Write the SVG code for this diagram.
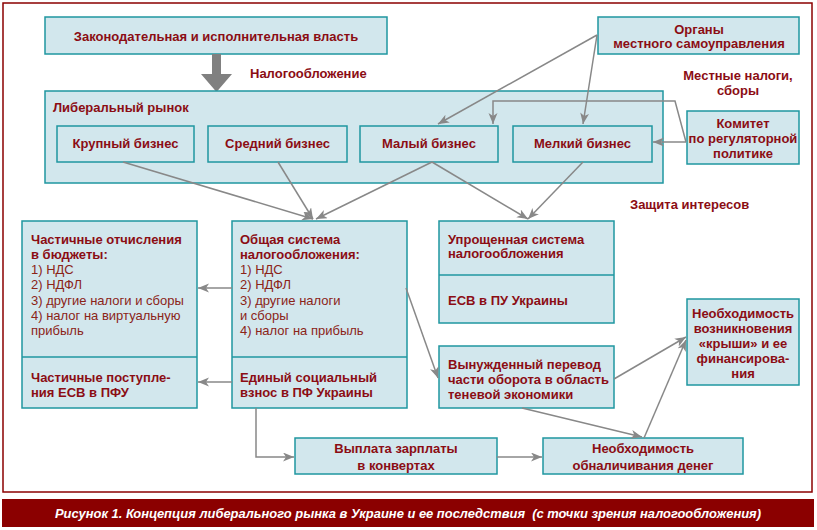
<svg xmlns="http://www.w3.org/2000/svg" width="817" height="530" viewBox="0 0 817 530">
<style>
.box{fill:#d2e7ed;stroke:#1f97a0;stroke-width:1.5}
.t{font-family:"Liberation Sans",Arial,sans-serif;font-size:13px;font-weight:bold;fill:#8b0d14}
.r{font-family:"Liberation Sans",Arial,sans-serif;font-size:13px;fill:#8b2418}
.c{text-anchor:middle}
.ln{fill:none;stroke:#888;stroke-width:1.5;marker-end:url(#ah)}
.div{stroke:#1f97a0;stroke-width:1.5}
</style>
<defs>
<marker id="ah" markerUnits="userSpaceOnUse" markerWidth="12" markerHeight="10" refX="11" refY="4.5" orient="auto">
<path d="M0,0 L11,4.5 L0,9 L3,4.5 z" fill="#888"/>
</marker>
</defs>
<rect x="0" y="0" width="817" height="530" fill="#fff"/>
<rect x="3" y="3" width="809" height="489" fill="none" stroke="#8b0000" stroke-width="1.5"/>

<g id="vlast">
<rect class="box" x="45" y="17" width="342" height="37"/>
<text class="t c" x="216" y="40.5">Законодательная и исполнительная власть</text>
</g>
<g id="bigarrow">
<polygon points="212,54 221,54 221,74 232,74 216.5,92 201,74 212,74" fill="#808080"/>
<text class="t" x="250" y="78">Налогообложение</text>
</g>
<g id="rynok">
<rect class="box" x="45" y="91" width="618" height="92"/>
<text class="t" x="53" y="112">Либеральный рынок</text>
</g>
<g id="krupny">
<rect class="box" x="57" y="126" width="137" height="36"/>
<text class="t c" x="125.5" y="148">Крупный бизнес</text>
</g>
<g id="sredny">
<rect class="box" x="208" y="126" width="139" height="36"/>
<text class="t c" x="277.5" y="148">Средний бизнес</text>
</g>
<g id="maly">
<rect class="box" x="360" y="126" width="138" height="36"/>
<text class="t c" x="429" y="148">Малый бизнес</text>
</g>
<g id="melky">
<rect class="box" x="513" y="126" width="139" height="36"/>
<text class="t c" x="582.5" y="148">Мелкий бизнес</text>
</g>
<g id="organy">
<rect class="box" x="598" y="17" width="201" height="37"/>
<text class="t c" x="699" y="33.5">Органы</text>
<text class="t c" x="699" y="48">местного самоуправления</text>
</g>
<g id="mestnye">
<text class="t c" x="738" y="79.5">Местные налоги,</text>
<text class="t c" x="738" y="94.5">сборы</text>
</g>
<g id="komitet">
<rect class="box" x="687" y="111" width="112" height="53"/>
<text class="t c" x="743" y="127.5">Комитет</text>
<text class="t c" x="743" y="142.5">по регуляторной</text>
<text class="t c" x="743" y="157.5">политике</text>
</g>
<g id="zaschita">
<text class="t" x="630" y="209">Защита интересов</text>
</g>
<g id="chastichnye">
<rect class="box" x="22" y="221" width="175" height="187"/>
<line class="div" x1="22" y1="357" x2="197" y2="357"/>
<text class="t" x="31" y="243.5">Частичные отчисления</text>
<text class="t" x="31" y="258.8">в бюджеты:</text>
<text class="r" x="31" y="274.1">1) НДС</text>
<text class="r" x="31" y="289.4">2) НДФЛ</text>
<text class="r" x="31" y="304.7">3) другие налоги и сборы</text>
<text class="r" x="31" y="320">4) налог на виртуальную</text>
<text class="r" x="31" y="335.3">прибыль</text>
<text class="t" x="31" y="381.5">Частичные поступле-</text>
<text class="t" x="31" y="396.5">ния ЕСВ в ПФУ</text>
</g>
<g id="obschaya">
<rect class="box" x="232" y="221" width="175" height="187"/>
<line class="div" x1="232" y1="357" x2="407" y2="357"/>
<text class="t" x="240" y="243.5">Общая система</text>
<text class="t" x="240" y="258.8">налогообложения:</text>
<text class="r" x="240" y="274.1">1) НДС</text>
<text class="r" x="240" y="289.4">2) НДФЛ</text>
<text class="r" x="240" y="304.7">3) другие налоги</text>
<text class="r" x="240" y="320">и сборы</text>
<text class="r" x="240" y="335.3">4) налог на прибыль</text>
<text class="t" x="240" y="381.5">Единый социальный</text>
<text class="t" x="240" y="396.5">взнос в ПФ Украины</text>
</g>
<g id="uproschennaya">
<rect class="box" x="439" y="221" width="175" height="102"/>
<line class="div" x1="439" y1="275" x2="614" y2="275"/>
<text class="t" x="448" y="243.5">Упрощенная система</text>
<text class="t" x="448" y="258">налогообложения</text>
<text class="t" x="448" y="304.5">ЕСВ в ПУ Украины</text>
</g>
<g id="vynuzhdenny">
<rect class="box" x="439" y="346" width="175" height="62"/>
<text class="t" x="448" y="368.5">Вынужденный перевод</text>
<text class="t" x="448" y="383.5">части оборота в область</text>
<text class="t" x="448" y="398.5">теневой экономики</text>
</g>
<g id="krysha">
<rect class="box" x="687" y="299" width="112" height="86"/>
<text class="t c" x="743" y="317.5">Необходимость</text>
<text class="t c" x="743" y="332.5">возникновения</text>
<text class="t c" x="743" y="347.5">«крыши» и ее</text>
<text class="t c" x="743" y="362.5">финансирова-</text>
<text class="t c" x="743" y="377.5">ния</text>
</g>
<g id="vyplata">
<rect class="box" x="295" y="438" width="202" height="36"/>
<text class="t c" x="396" y="452.5">Выплата зарплаты</text>
<text class="t c" x="396" y="469.5">в конвертах</text>
</g>
<g id="obnalichivanie">
<rect class="box" x="543" y="438" width="200" height="36"/>
<text class="t c" x="643" y="452.5">Необходимость</text>
<text class="t c" x="643" y="469.5">обналичивания денег</text>
</g>

<g id="connectors">
<line class="ln" x1="597" y1="35" x2="438" y2="124"/>
<line class="ln" x1="597" y1="35" x2="583" y2="124"/>
<line class="ln" x1="686" y1="142" x2="653" y2="142"/>
<polyline class="ln" points="686,142 675,101 493,101 493,124"/>
<line class="ln" x1="123" y1="162" x2="313" y2="219"/>
<line class="ln" x1="278" y1="162" x2="313" y2="219"/>
<line class="ln" x1="432" y1="162" x2="316" y2="219"/>
<line class="ln" x1="432" y1="162" x2="528" y2="219"/>
<line class="ln" x1="583" y1="162" x2="528" y2="219"/>
<line class="ln" x1="232" y1="288" x2="198" y2="288"/>
<line class="ln" x1="232" y1="382" x2="198" y2="382"/>
<line class="ln" x1="406" y1="288" x2="438" y2="378"/>
<polyline class="ln" points="256,408 256,457 294,457"/>
<line class="ln" x1="497" y1="457" x2="542" y2="457"/>
<line class="ln" x1="614" y1="379" x2="686" y2="337"/>
<line class="ln" x1="644" y1="438" x2="686" y2="340"/>
<line class="ln" x1="522" y1="408" x2="642" y2="437"/>
</g>

<g id="caption">
<rect x="2" y="499" width="812" height="28" fill="#8b0000"/>
<text x="408" y="518" text-anchor="middle" textLength="706" lengthAdjust="spacingAndGlyphs" xml:space="preserve" font-family="'Liberation Sans Narrow','Liberation Sans',Arial,sans-serif" font-size="13" font-weight="bold" font-style="italic" fill="#fff">Рисунок 1. Концепция либерального рынка в Украине и ее последствия  (с точки зрения налогообложения)</text>
</g>
</svg>
